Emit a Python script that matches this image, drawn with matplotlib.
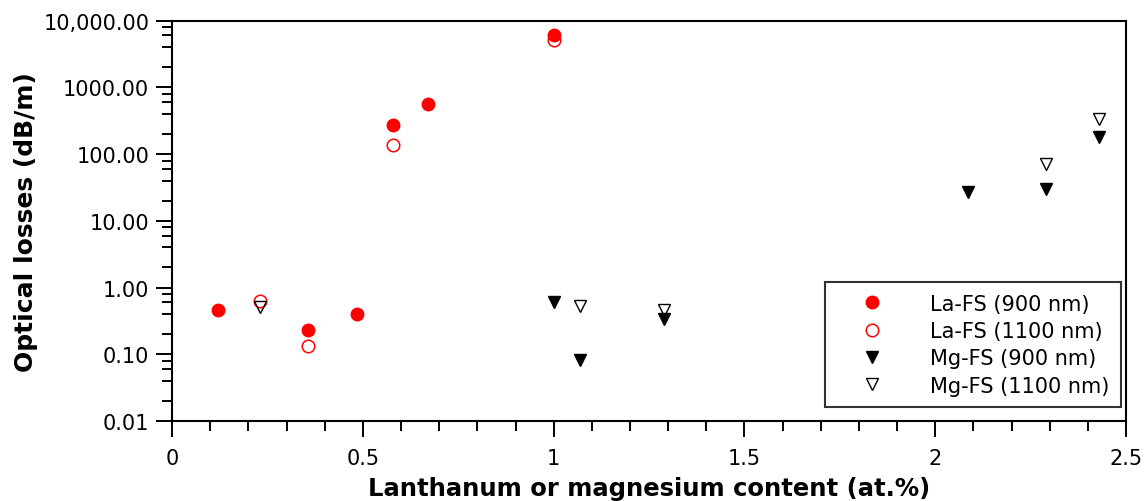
import numpy as np
import matplotlib
matplotlib.use('Agg')
import matplotlib.pyplot as plt
from matplotlib.ticker import FixedLocator, FuncFormatter, MultipleLocator

# La-FS samples
la_x = [0.12, 0.23, 0.355, 0.485, 0.58, 0.67, 1.0]
la_900 = [0.46, np.nan, 0.23, 0.40, 277, 570, 6000]
la_1100 = [np.nan, 0.63, 0.135, np.nan, 139, np.nan, 5200]

# Mg-FS samples
mg_x = [0.23, 1.0, 1.07, 1.29, 2.085, 2.29, 2.43]
mg_900 = [np.nan, 0.60, 0.083, 0.34, 27, 29.5, 180]
mg_1100 = [0.51, np.nan, 0.52, 0.46, np.nan, 70, 330]

plt.rcParams['font.family'] = ['DejaVu Sans']

fig = plt.figure(figsize=(11.44, 5.02), dpi=100)
ax = fig.add_axes([0.1505, 0.1594, 0.8338, 0.7976])

ax.plot(la_x, la_900, 'o', color='#ff0000', ms=9, mec='#ff0000', label='La-FS (900 nm)')
ax.plot(la_x, la_1100, 'o', color='none', ms=9, mec='#ff0000', mew=1.1, label='La-FS (1100 nm)')
ax.plot(mg_x, mg_900, 'v', color='black', ms=9, label='Mg-FS (900 nm)')
ax.plot(mg_x, mg_1100, 'v', color='none', ms=9, mec='black', mew=1.0, label='Mg-FS (1100 nm)')

ax.set_yscale('log')
ax.set_ylim(0.01, 10000)
ax.set_xlim(0, 2.5)

def yfmt(v, pos):
    if v >= 10000:
        return '{:,.2f}'.format(v)
    return '{:.2f}'.format(v)

ax.yaxis.set_major_locator(FixedLocator([0.01, 0.1, 1, 10, 100, 1000, 10000]))
ax.yaxis.set_major_formatter(FuncFormatter(yfmt))
minors = [m * 10.0 ** e for e in range(-2, 4) for m in (2, 4, 6, 8)]
ax.yaxis.set_minor_locator(FixedLocator(minors))
ax.yaxis.set_minor_formatter(FuncFormatter(lambda v, p: ''))

ax.xaxis.set_major_locator(MultipleLocator(0.5))
ax.xaxis.set_minor_locator(MultipleLocator(0.1))
ax.xaxis.set_major_formatter(FuncFormatter(lambda v, p: '{:g}'.format(v)))

ax.tick_params(which='major', direction='out', length=11.5, width=1.4, labelsize=15, pad=5)
ax.tick_params(which='minor', direction='out', length=7, width=1.4)
ax.tick_params(axis='x', which='major', pad=8)

for s in ax.spines.values():
    s.set_linewidth(1.5)

ax.set_xlabel('Lanthanum or magnesium content (at.%)', fontsize=17.5, fontweight='bold', labelpad=6)
ax.set_ylabel('Optical losses (dB/m)', fontsize=18, fontweight='bold', labelpad=4)

leg = ax.legend(loc='lower right', bbox_to_anchor=(0.995, 0.035), fontsize=15,
                frameon=True, fancybox=False, edgecolor='black', handletextpad=1.1,
                borderpad=0.55, labelspacing=0.35, handlelength=3.4, borderaxespad=0)
leg.get_frame().set_linewidth(1.5)

fig.savefig('out.png', dpi=100)
